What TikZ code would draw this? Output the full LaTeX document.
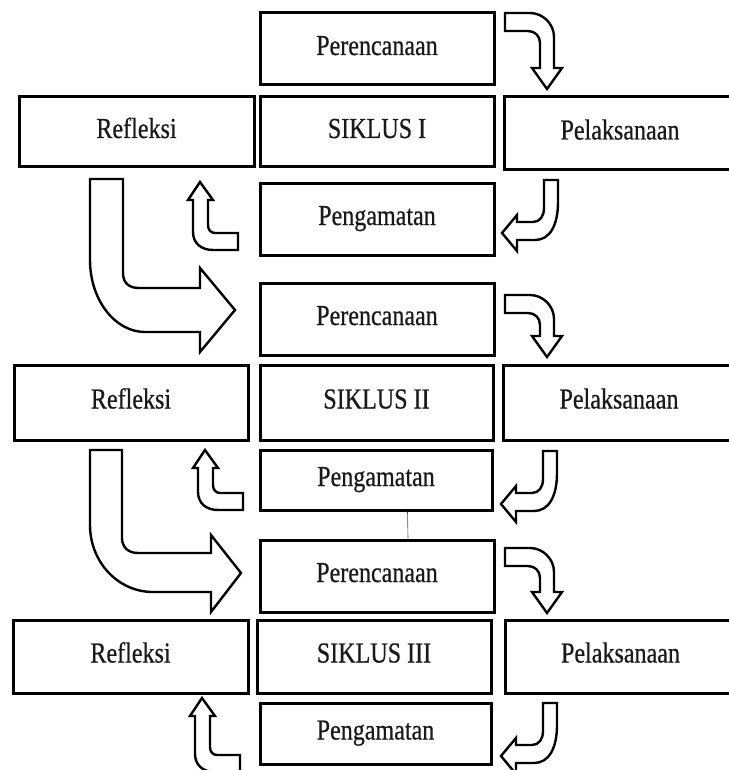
\documentclass[tikz,border=0pt]{standalone}
\usepackage{fontspec}
\setmainfont{Liberation Serif}[FakeStretch=0.83, FakeBold=0.6]

\tikzset{
    blockarrow/.style={draw, line width=2.4pt, fill=white},
    % arrow from Perencanaan down to Pelaksanaan
    pics/turndown/.style={code={
        \draw[blockarrow] (0,0) -- (25,0) .. controls (38,0) and (49,11) .. (49,24)
            -- (49,#1-21) -- (57,#1-21) -- (42,#1) -- (27,#1-21) -- (35,#1-21)
            -- (35,30) .. controls (35,23) and (30,18) .. (23,18) -- (0,18) -- cycle;
    }},
    % arrow from Pelaksanaan back to Pengamatan
    pics/turnleft/.style={code={
        \draw[blockarrow] (0,0) -- (14,0) -- (14,22) .. controls (14,45) and (6,60) .. (-9,60)
            -- (-27,60) -- (-27,71) -- (-42,53) -- (-27,35) -- (-27,42) -- (-11,42)
            .. controls (-4,42) and (0,36) .. (0,28) -- cycle;
    }},
    % arrow from Pengamatan up to Refleksi
    pics/turnup/.style={code={
        \draw[blockarrow] (0,0) -- (13,18) -- (8,18) -- (8,#1-25)
            .. controls (8,#1-20) and (11,#1-17) .. (15,#1-17) -- (38,#1-17) -- (38,#1)
            -- (13,#1) .. controls (1,#1) and (-7,#1-7) .. (-7,#1-18)
            -- (-7,18) -- (-12,18) -- cycle;
    }}
}

\begin{document}
\begin{tikzpicture}[x=1pt, y=-1pt,
    every node/.style={rectangle, draw, line width=3pt, inner sep=0pt, text=black!90,
        font=\fontsize{29}{34}\selectfont, text height=19pt, text depth=7pt},
    box/.style={minimum width=234pt, minimum height=72pt}]
    \useasboundingbox (0,0) rectangle (728,770);

    % Siklus I
    \node[box] (per1) at (377,49) {Perencanaan};
    \node[box, minimum width=235pt, minimum height=70pt] (ref1) at (136.5,132) {Refleksi};
    \node[box, minimum height=70pt] (sik1) at (377,132) {SIKLUS I};
    \node[box, minimum width=232pt, minimum height=73pt] (pel1) at (620,133.5) {Pelaksanaan};
    \node[box] (pen1) at (377,219) {Pengamatan};

    % Siklus II
    \node[box] (per2) at (377,319) {Perencanaan};
    \node[box, minimum height=75pt] (ref2) at (131,402.5) {Refleksi};
    \node[box, minimum width=233pt, minimum height=75pt] (sik2) at (376.5,402.5) {SIKLUS II};
    \node[box, minimum width=232pt, minimum height=75pt] (pel2) at (619,402.5) {Pelaksanaan};
    \node[box, minimum width=232pt, minimum height=60pt] (pen2) at (376,480) {Pengamatan};

    % Siklus III
    \node[box] (per3) at (377,576) {Perencanaan};
    \node[box, minimum width=235pt, minimum height=73pt] (ref3) at (130.5,656.5) {Refleksi};
    \node[box, minimum height=73pt] (sik3) at (374,656.5) {SIKLUS III};
    \node[box, minimum width=231pt, minimum height=73pt] (pel3) at (620.5,656.5) {Pelaksanaan};
    \node[box, minimum width=231pt, minimum height=61pt] (pen3) at (375.5,733.5) {Pengamatan};

    \draw[line width=0.6pt, black!70] ([xshift=31.5pt]pen2.south) -- ([xshift=31pt]per3.north);

    % small turning arrows
    \pic at (505,13) {turndown=76};
    \pic at (505,295) {turndown=62};
    \pic at (505,548) {turndown=65};
    \pic at (544,180) {turnleft};
    \pic at (543,451) {turnleft};
    \pic at (543,703) {turnleft};
    \pic at (200,182) {turnup=68};
    \pic at (205,450) {turnup=60};
    \pic at (202,698) {turnup=74};

    % big arrows to the next cycle
    \draw[blockarrow] (90,179) -- (123,179) -- (123,273) .. controls (123,283) and (129,288) .. (139,288)
        -- (200,288) -- (200,268) -- (235,310) -- (200,352) -- (200,332) -- (145,332)
        .. controls (115,332) and (90,300) .. (90,260) -- cycle;
    \draw[blockarrow] (90,450) -- (122,450) -- (122,538) .. controls (122,547) and (128,553) .. (138,553)
        -- (211,553) -- (211,535) -- (241,573) -- (211,612) -- (211,592) -- (153,592)
        .. controls (118,592) and (90,562) .. (90,525) -- cycle;
\end{tikzpicture}
\end{document}
